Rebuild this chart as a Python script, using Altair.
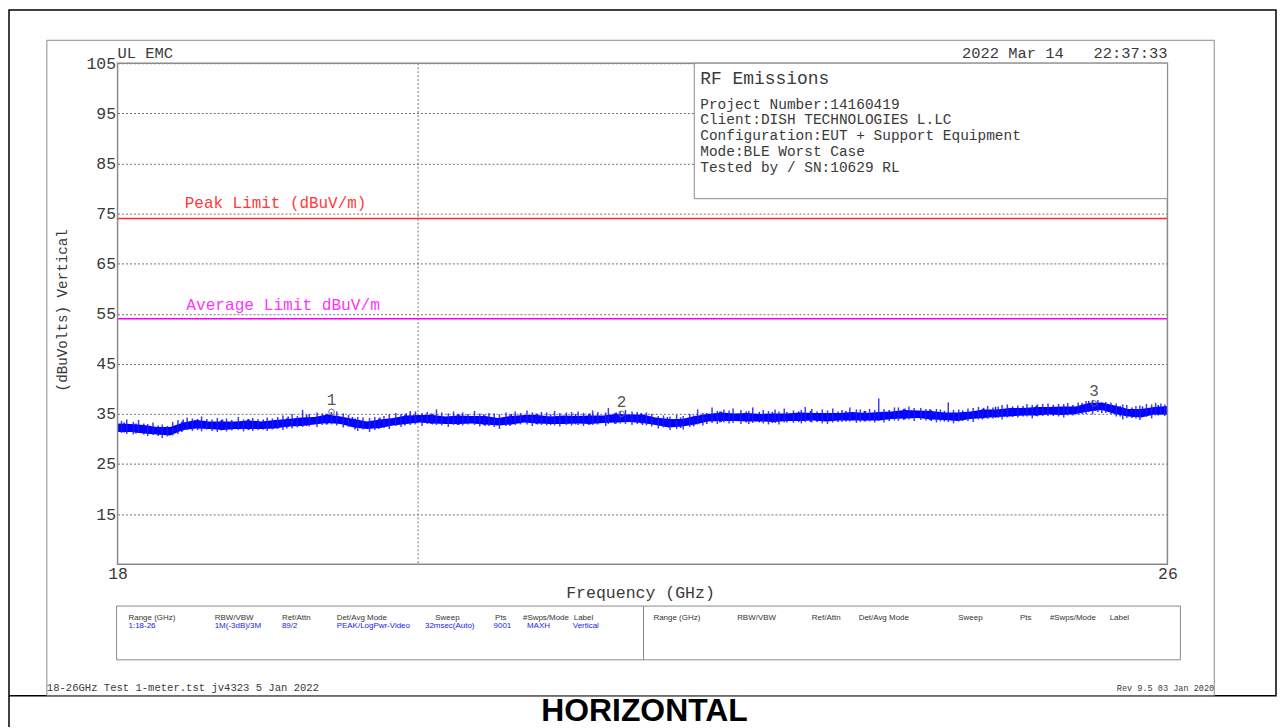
import altair as alt
import pandas as pd

# ---------------- data ----------------
# core of the noisy trace (every 0.1 GHz): upper / lower edge of the dense band
trace_ghz = [18.0, 18.1, 18.2, 18.3, 18.4, 18.5, 18.6, 18.7, 18.8, 18.9,
             19.0, 19.1, 19.2, 19.3, 19.4, 19.5, 19.6, 19.7, 19.8, 19.9,
             20.0, 20.1, 20.2, 20.3, 20.4, 20.5, 20.6, 20.7, 20.8, 20.9,
             21.0, 21.1, 21.2, 21.3, 21.4, 21.5, 21.6, 21.7, 21.8, 21.9,
             22.0, 22.1, 22.2, 22.3, 22.4, 22.5, 22.6, 22.7, 22.8, 22.9,
             23.0, 23.1, 23.2, 23.3, 23.4, 23.5, 23.6, 23.7, 23.8, 23.9,
             24.0, 24.1, 24.2, 24.3, 24.4, 24.5, 24.6, 24.7, 24.8, 24.9,
             25.0, 25.1, 25.2, 25.3, 25.4, 25.5, 25.6, 25.7, 25.8, 25.9, 26.0]
trace_hi = [33.1, 33.0, 32.8, 32.4, 32.4, 33.3, 33.8, 33.5, 33.5, 33.5,
            33.7, 33.5, 33.8, 34.0, 34.3, 34.4, 34.9, 34.5, 34.0, 33.5,
            33.9, 34.2, 34.7, 34.8, 34.8, 34.5, 34.7, 34.6, 34.6, 34.2,
            34.6, 34.8, 34.8, 34.5, 34.7, 34.6, 34.7, 34.7, 35.0, 34.9,
            34.9, 34.3, 34.0, 34.0, 34.6, 35.0, 35.3, 35.1, 35.2, 35.0,
            35.1, 35.1, 35.3, 35.2, 35.2, 35.2, 35.4, 35.2, 35.4, 35.5,
            35.8, 35.7, 35.6, 35.3, 35.3, 35.5, 35.9, 35.9, 36.2, 36.2,
            36.4, 36.4, 36.5, 36.5, 37.2, 37.3, 36.7, 36.0, 36.0, 36.4, 36.6]
trace_lo = [31.4, 31.4, 31.1, 30.9, 30.7, 31.8, 32.1, 32.0, 31.8, 32.0,
            32.0, 32.0, 32.1, 32.5, 32.6, 32.9, 33.2, 33.0, 32.3, 32.0,
            32.2, 32.7, 33.0, 33.3, 33.1, 33.0, 33.0, 33.1, 32.9, 32.7,
            32.9, 33.3, 33.1, 33.0, 33.0, 33.1, 33.0, 33.2, 33.3, 33.4,
            33.2, 32.8, 32.3, 32.5, 32.9, 33.5, 33.6, 33.6, 33.5, 33.5,
            33.4, 33.6, 33.6, 33.7, 33.5, 33.7, 33.7, 33.7, 33.7, 34.0,
            34.1, 34.2, 33.9, 33.8, 33.6, 34.0, 34.2, 34.4, 34.5, 34.7,
            34.7, 34.9, 34.8, 35.0, 35.5, 35.8, 35.0, 34.5, 34.3, 34.9, 34.9]

# individual noise excursions (max / min of the sweep around each position)
spike_ghz = [18.03, 18.07, 18.12, 18.16, 18.23, 18.27, 18.34, 18.38, 18.42, 18.46,
             18.53, 18.57, 18.64, 18.68, 18.72, 18.76, 18.83, 18.87, 18.92, 18.96,
             19.03, 19.07, 19.14, 19.18, 19.22, 19.26, 19.33, 19.37, 19.41, 19.46,
             19.52, 19.56, 19.63, 19.67, 19.72, 19.76, 19.83, 19.87, 19.92, 19.96,
             20.03, 20.07, 20.12, 20.16, 20.23, 20.27, 20.32, 20.36, 20.43, 20.47,
             20.52, 20.56, 20.63, 20.67, 20.72, 20.76, 20.83, 20.87, 20.91, 20.96,
             21.03, 21.07, 21.12, 21.16, 21.23, 21.27, 21.33, 21.37, 21.42, 21.46,
             21.51, 21.55, 21.62, 21.66, 21.72, 21.74, 21.83, 21.87, 21.92, 21.96,
             22.03, 22.07, 22.12, 22.16, 22.21, 22.26, 22.31, 22.36, 22.42, 22.46,
             22.53, 22.57, 22.62, 22.66, 22.69, 22.75, 22.81, 22.84, 22.92, 22.96,
             23.01, 23.04, 23.08, 23.15, 23.21, 23.24, 23.29, 23.37, 23.41, 23.45,
             23.52, 23.58, 23.63, 23.66, 23.73, 23.77, 23.80, 23.84, 23.92, 23.95,
             24.03, 24.07, 24.12, 24.16, 24.24, 24.27, 24.33, 24.37, 24.41, 24.48,
             24.52, 24.56, 24.63, 24.67, 24.71, 24.74, 24.78, 24.86, 24.93, 24.97,
             25.01, 25.05, 25.09, 25.17, 25.21, 25.24, 25.32, 25.38, 25.43, 25.47,
             25.53, 25.57, 25.61, 25.66, 25.69, 25.76, 25.79, 25.84, 25.88, 25.91,
             25.95, 25.98]
spike_top = [33.6, 33.9, 33.4, 33.8, 33.0, 33.3, 32.9, 32.6, 33.4, 33.8,
             34.3, 34.1, 34.5, 34.0, 33.9, 34.2, 34.1, 33.8, 34.4, 33.9,
             34.2, 34.0, 34.3, 34.1, 34.4, 34.7, 35.0, 34.6, 35.8, 35.0,
             35.3, 35.1, 35.4, 35.5, 35.1, 34.8, 34.4, 34.3, 34.2, 34.4,
             34.6, 34.9, 35.2, 35.0, 35.6, 35.5, 35.2, 35.4, 35.9, 35.3,
             35.1, 35.5, 35.3, 35.0, 35.6, 35.1, 35.2, 35.1, 34.9, 35.3,
             35.5, 35.2, 35.7, 35.3, 35.4, 35.3, 35.6, 35.2, 35.3, 35.4,
             35.5, 35.2, 35.7, 35.4, 35.3, 36.2, 35.6, 35.8, 35.5, 35.4,
             35.3, 35.0, 34.6, 34.7, 34.5, 34.8, 34.6, 35.0, 35.9, 35.2,
             36.3, 35.6, 35.9, 35.7, 36.1, 35.8, 35.6, 36.3, 35.8, 35.6,
             35.9, 35.5, 36.1, 35.7, 35.8, 36.4, 36.0, 35.9, 35.7, 36.1,
             35.8, 36.3, 35.9, 35.9, 36.0, 35.8, 38.1, 36.0, 36.3, 36.3,
             36.5, 36.2, 36.2, 36.0, 36.0, 35.9, 37.3, 35.8, 35.9, 36.1,
             36.2, 36.4, 36.6, 36.3, 36.5, 36.8, 36.9, 36.7, 37.0, 36.8,
             36.9, 37.0, 37.1, 37.0, 37.0, 37.2, 37.3, 37.6, 37.8, 37.8,
             37.4, 37.3, 37.1, 36.9, 36.8, 36.6, 36.7, 37.0, 36.9, 37.2,
             37.1, 36.9]
spike_bot = [31.2, 31.0, 30.9, 31.2, 30.6, 30.8, 30.2, 30.5, 30.7, 31.0,
             31.8, 31.6, 31.5, 31.9, 31.6, 31.4, 31.5, 31.7, 31.8, 31.5,
             31.6, 31.8, 31.6, 31.9, 32.0, 31.8, 32.1, 32.3, 32.4, 32.5,
             32.4, 32.8, 32.9, 32.7, 32.3, 32.4, 31.6, 31.9, 31.4, 31.8,
             32.2, 32.0, 32.6, 32.4, 32.8, 32.9, 32.6, 33.0, 32.8, 32.7,
             32.4, 32.8, 32.7, 32.9, 32.8, 32.5, 32.6, 32.4, 32.0, 32.6,
             32.8, 32.9, 32.9, 32.6, 32.8, 32.7, 32.7, 32.5, 32.8, 32.7,
             32.8, 32.6, 32.8, 32.9, 32.6, 33.0, 33.1, 33.0, 32.8, 33.0,
             32.7, 32.5, 32.1, 32.3, 31.8, 32.0, 31.9, 32.4, 32.9, 32.7,
             33.2, 33.0, 33.3, 33.1, 33.2, 33.0, 33.0, 33.2, 33.1, 32.9,
             33.2, 32.9, 33.3, 33.2, 33.1, 33.4, 33.3, 33.1, 33.0, 33.3,
             33.4, 33.5, 33.2, 33.4, 33.5, 33.3, 33.6, 33.3, 33.7, 33.6,
             33.9, 33.6, 33.8, 33.7, 33.3, 33.5, 33.4, 33.1, 33.5, 33.6,
             33.4, 33.9, 34.0, 34.1, 34.2, 33.9, 34.3, 34.3, 34.5, 34.1,
             34.5, 34.6, 34.6, 34.5, 34.3, 34.7, 34.9, 35.0, 34.9, 35.4,
             35.2, 35.0, 34.5, 33.9, 34.2, 34.1, 33.8, 34.4, 34.1, 34.7,
             34.8, 34.6]

# smaller excursions in between
jitter_ghz = [18.05, 18.14, 18.20, 18.31, 18.49, 18.50, 18.61, 18.79, 18.80, 18.99,
              19.00, 19.11, 19.29, 19.30, 19.44, 19.59, 19.60, 19.79, 19.81, 19.99,
              20.00, 20.19, 20.20, 20.39, 20.40, 20.59, 20.60, 20.79, 20.80, 20.99,
              21.00, 21.19, 21.20, 21.30, 21.49, 21.59, 21.60, 21.79, 21.80, 21.99,
              22.00, 22.19, 22.29, 22.39, 22.49, 22.59, 22.60, 22.79, 22.89, 22.99,
              23.10, 23.19, 23.28, 23.33, 23.49, 23.55, 23.69, 23.70, 23.88, 23.99,
              24.00, 24.19, 24.20, 24.30, 24.44, 24.59, 24.60, 24.69, 24.82, 24.90,
              25.00, 25.13, 25.28, 25.35, 25.40, 25.50, 25.64, 25.73, 25.81, 25.93]
jitter_top = [33.3, 33.1, 33.1, 32.7, 33.5, 33.9, 34.0, 33.8, 33.9, 33.9,
              34.0, 33.9, 34.2, 34.5, 34.8, 35.0, 35.0, 34.4, 34.1, 34.1,
              34.3, 34.9, 35.1, 35.1, 35.0, 34.9, 35.0, 34.9, 34.7, 34.8,
              35.0, 35.1, 35.0, 34.9, 35.0, 35.0, 35.1, 35.2, 35.3, 35.2,
              34.9, 34.4, 34.3, 34.7, 35.2, 35.5, 35.5, 35.5, 35.4, 35.4,
              35.4, 35.5, 35.6, 35.5, 35.5, 35.6, 35.6, 35.6, 35.8, 36.0,
              36.1, 36.0, 35.8, 35.6, 35.7, 36.0, 36.2, 36.4, 36.5, 36.6,
              36.7, 36.8, 36.8, 37.2, 37.6, 37.3, 36.6, 36.3, 36.5, 36.8]
jitter_bot = [31.3, 31.1, 30.9, 30.6, 31.4, 31.7, 31.8, 31.7, 31.8, 31.9,
              31.8, 31.9, 32.1, 32.4, 32.6, 32.9, 32.9, 32.5, 31.9, 32.0,
              32.3, 32.7, 33.0, 33.0, 32.9, 32.8, 32.8, 32.8, 32.6, 32.6,
              32.9, 33.0, 32.9, 32.8, 32.9, 32.8, 32.9, 33.0, 33.1, 33.1,
              32.8, 32.4, 32.2, 32.5, 33.0, 33.3, 33.4, 33.3, 33.3, 33.2,
              33.3, 33.4, 33.4, 33.4, 33.4, 33.5, 33.5, 33.5, 33.6, 33.8,
              33.9, 33.8, 33.6, 33.5, 33.6, 33.9, 34.1, 34.2, 34.4, 34.5,
              34.6, 34.6, 34.7, 35.0, 35.4, 35.2, 34.5, 34.2, 34.4, 34.7]

marker_labels = ["1", "2", "3"]
marker_ghz = [19.63, 21.84, 25.44]
marker_db = [35.4, 35.0, 37.1]

peak_limit = [74]
avg_limit = [54]
y_ticks = [15, 25, 35, 45, 55, 65, 75, 85, 95, 105]
x_ticks = [18, 26]
vgrid_ghz = [20.29]

info_lines = ["Project Number:14160419", "Client:DISH TECHNOLOGIES L.LC",
              "Configuration:EUT + Support Equipment", "Mode:BLE Worst Case",
              "Tested by / SN:10629 RL"]
table_headers = ["Range (GHz)", "RBW/VBW", "Ref/Attn", "Det/Avg Mode", "Sweep",
                 "Pts", "#Swps/Mode", "Label"]
table_values = ["1:18-26", "1M(-3dB)/3M", "89/2", "PEAK/LogPwr-Video",
                "32msec(Auto)", "9001", "MAXH", "Vertical"]

# ---------------- layout ----------------
W, H = 1054, 503
MONO = "Liberation Mono"
SANS = "Liberation Sans"
TXT = "#3a3a3a"
GRID = "#707070"
FRAME = "#8a8a8a"

xs = alt.Scale(domain=[18, 26], nice=False, zero=False)
ys = alt.Scale(domain=[5, 105], nice=False, zero=False)
x_axis = alt.Axis(values=x_ticks, grid=False, ticks=False, domain=False, title=None,
                  labelFont=MONO, labelFontSize=16.5, labelColor=TXT,
                  labelPadding=1, labelFlush=False, labelBaseline="top")
y_axis = alt.Axis(values=y_ticks, grid=True, gridDash=[2, 2], gridColor=GRID,
                  gridOpacity=1, gridWidth=1, ticks=False, domain=False, title=None,
                  labelFont=MONO, labelFontSize=16.5, labelColor=TXT,
                  labelPadding=2, labelFlush=False, labelBaseline="middle")


def X(field):
    return alt.X(field, scale=xs, axis=x_axis, title=None)


def Y(field):
    return alt.Y(field, scale=ys, axis=y_axis, title=None)


def txt(s, x, y, size=14.5, color=TXT, align="left", font=MONO, weight="normal",
        angle=0, baseline="alphabetic"):
    return alt.Chart(pd.DataFrame({"t": [s]})).mark_text(
        x=x, y=y, align=align, baseline=baseline, font=font, fontSize=size,
        color=color, fontWeight=weight, angle=angle).encode(text="t:N")


def box(x1, y1, x2, y2, stroke, fill="white", fill_op=0.0, sw=1.0):
    return alt.Chart(pd.DataFrame({"a": [0]})).mark_rect(
        fill=fill, fillOpacity=fill_op, stroke=stroke, strokeWidth=sw).encode(
        x=alt.value(x1), x2=alt.value(x2), y=alt.value(y1), y2=alt.value(y2))


def vline(x, y1, y2, color, sw=1.0):
    return alt.Chart(pd.DataFrame({"a": [0]})).mark_rule(color=color, strokeWidth=sw).encode(
        x=alt.value(x), y=alt.value(y1), y2=alt.value(y2))


trace_df = pd.DataFrame({"f": trace_ghz, "hi": trace_hi, "lo": trace_lo})
band = alt.Chart(trace_df).mark_area(color="#0000ff", opacity=1).encode(
    x=X("f:Q"), y=Y("hi:Q"), y2="lo:Q")

spike_df = pd.DataFrame({"f": spike_ghz, "a": spike_top, "b": spike_bot})
spikes = alt.Chart(spike_df).mark_rule(color="#1a1aff", strokeWidth=1.5, opacity=0.85).encode(
    x=X("f:Q"), y=Y("a:Q"), y2="b:Q")

jit_df = pd.DataFrame({"f": jitter_ghz, "a": jitter_top, "b": jitter_bot})
jitter = alt.Chart(jit_df).mark_rule(color="#0a0aff", strokeWidth=1.5, opacity=0.9).encode(
    x=X("f:Q"), y=Y("a:Q"), y2="b:Q")

vgrid = alt.Chart(pd.DataFrame({"f": vgrid_ghz})).mark_rule(
    color=GRID, strokeDash=[2, 2], strokeWidth=1).encode(x=X("f:Q"))

peak = alt.Chart(pd.DataFrame({"v": peak_limit})).mark_rule(
    color="#ff2a2a", strokeWidth=1.5).encode(y=Y("v:Q"))
avg = alt.Chart(pd.DataFrame({"v": avg_limit})).mark_rule(
    color="#ff00ff", strokeWidth=1.5).encode(y=Y("v:Q"))

mk_df = pd.DataFrame({"f": marker_ghz, "v": marker_db, "lab": marker_labels})
mk_pts = alt.Chart(mk_df).mark_point(shape="circle", size=30, filled=False, color="#666666",
                                      strokeWidth=1.2).encode(x=X("f:Q"), y=Y("v:Q"))
mk_txt = alt.Chart(mk_df).mark_text(dy=-12, font=MONO, fontSize=16, color="#555555",
                                    baseline="middle").encode(
    x=X("f:Q"), y=Y("v:Q"), text="lab:N")

layers = [
    box(-109, -53.5, 1163, 635, "#000000", sw=1.5),
    vline(-109, 635, 670, "#000000", sw=1.5),
    box(-71, -23, 1101, 635, FRAME, sw=1),
    vgrid, band, spikes, jitter, peak, avg, mk_pts, mk_txt,
    box(0, 0, W, H, FRAME, sw=1.5),
    box(579, 0, 1054, 136, FRAME, fill="white", fill_op=1.0, sw=1),
    txt("UL EMC", 0, -5, size=15.5),
    txt("2022 Mar 14", 950, -5, size=15.5, align="right"),
    txt("22:37:33", 1054, -5, size=15.5, align="right"),
    txt("Peak Limit (dBuV/m)", 67.5, 145, size=16, color="#ff3a3a"),
    txt("Average Limit dBuV/m", 69, 248, size=16.2, color="#ff33ff"),
    txt("RF Emissions", 585, 21.3, size=18),
    txt("(dBuVolts) Vertical", -55, 248, size=14.3, align="center", angle=270,
        baseline="middle"),
    txt("Frequency (GHz)", 525, 537, size=16.6, align="center"),
    box(-1, 545, 1067, 599, FRAME, sw=1),
    vline(528, 545, 599, FRAME, sw=1),
    txt("18-26GHz Test 1-meter.tst jv4323  5 Jan 2022", -71, 630, size=10.6, font=MONO),
    txt("Rev 9.5 03 Jan 2020", 1101, 630, size=8.6, font=MONO, align="right"),
    txt("HORIZONTAL", 529, 660.5, size=32, font=SANS, weight="bold", color="#000000",
        align="center"),
]

for i, line in enumerate(info_lines):
    layers.append(txt(line, 585, [45.5, 61.5, 77.5, 93.5, 109.5][i], size=14.5))

left_hx = [11, 97.5, 165, 220, 319, 379, 407, 458]
left_vx = [11, 97.5, 165, 220, 308.6, 377.5, 411, 457]
right_hx = [538, 622, 697, 744, 844, 906, 936, 996]
for hx, h in zip(left_hx, table_headers):
    layers.append(txt(h, hx, 558.5, size=8, font=SANS, color="#333333"))
for vx, v in zip(left_vx, table_values):
    layers.append(txt(v, vx, 567.5, size=8, font=SANS, color="#1a1ae6"))
for hx, h in zip(right_hx, table_headers):
    layers.append(txt(h, hx, 558.5, size=8, font=SANS, color="#333333"))

chart = alt.layer(*layers).properties(
    width=W, height=H,
    padding={"left": 110, "top": 54, "right": 110, "bottom": 162},
    autosize=alt.AutoSizeParams(type="none"),
    background="white",
).configure_view(stroke=None)

chart.save("out.html", embed_options={"renderer": "svg", "actions": False})
